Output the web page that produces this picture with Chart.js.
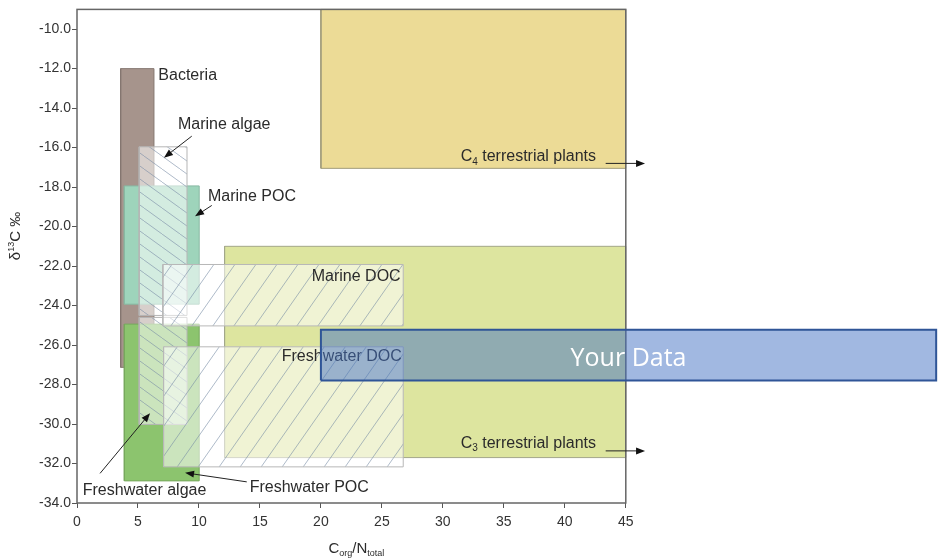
<!DOCTYPE html>
<html><head><meta charset="utf-8">
<script src="https://cdn.jsdelivr.net/npm/chart.js@4.4.0/dist/chart.umd.min.js"></script>
<style>html,body{margin:0;padding:0;background:#fff;} canvas{display:block;}</style>
</head><body>
<canvas id="c" width="938" height="558"></canvas>
<script>
// ---------------- data ----------------
const boxNames = ['C4 terrestrial plants','C3 terrestrial plants','Bacteria','Marine POC','Freshwater POC','Marine algae','Freshwater algae','Marine DOC','Freshwater DOC','Your Data'];
const boxXMin = [20,    12.1,  3.58,  3.88,   3.88,   5.1,    5.1,    7.04,   7.1,    20];
const boxXMax = [45,    45,    6.31,  10.02,  10.02,  9.02,   9.02,   26.75,  26.75,  70.45];
const boxYMin = [-17.05,-31.7, -27.13,-23.93, -32.88, -24.5,  -30.02, -25.03, -32.17, -27.8];
const boxYMax = [-9,    -21.0, -12.0, -17.94, -24.94, -15.96, -24.6,  -21.92, -26.09, -25.23];

const xTicks = [0,5,10,15,20,25,30,35,40,45];
const yTicks = [-34,-32,-30,-28,-26,-24,-22,-20,-18,-16,-14,-12,-10];

const labelText  = ['Bacteria','Marine algae','Marine POC','Marine DOC','Freshwater DOC','Freshwater algae','Freshwater POC','C_{4} terrestrial plants','C_{3} terrestrial plants'];
const labelX     = [6.67, 8.28, 10.74, 26.54, 26.63, 0.47, 14.16, 31.46, 31.46];
const labelY     = [-12.34, -14.83, -18.48, -22.51, -26.58, -33.38, -33.21, -16.46, -30.99];
const labelAlign = ['left','left','left','right','right','left','left','left','left'];

const arrowX0 = [9.41, 11.05, 1.89, 13.92, 43.35, 43.35];
const arrowY0 = [-15.42, -18.93, -32.50, -32.93, -16.8, -31.36];
const arrowX1 = [7.13, 9.68, 5.99, 8.86, 46.58, 46.58];
const arrowY1 = [-16.51, -19.48, -29.45, -32.47, -16.8, -31.36];

const yourDataText = 'Your Data';
const xTitle = 'C_{org}/N_{total}';
const yTitle = 'δ^{13}C ‰';

// ---------------- styles ----------------
const X_MAX = 70.6, Y_MIN = -34, Y_MAX = -9, FRAME_XMAX = 45;
const canvas = document.getElementById('c');
const ctx0 = canvas.getContext('2d');
function makeHatch(w, h, dir) {
  const c = document.createElement('canvas'); c.width = w; c.height = h;
  const g = c.getContext('2d');
  g.fillStyle = 'rgba(255,255,255,0.55)'; g.fillRect(0,0,w,h);
  g.strokeStyle = 'rgba(120,140,165,0.6)'; g.lineWidth = 1;
  g.beginPath();
  for (let k = -1; k <= 1; k++) {
    if (dir > 0) { g.moveTo(k*w, h); g.lineTo(k*w + w, 0); }
    else { g.moveTo(k*w, 0); g.lineTo(k*w + w, h); }
  }
  g.stroke();
  return ctx0.createPattern(c, 'repeat');
}
const hatchBack = makeHatch(18, 13, -1);
const hatchFwd = makeHatch(21, 30, 1);
const boxFill = ['#ecdb96','#dde59f','#a6948c','#9ed4bb','#8cc46e',hatchBack,hatchBack,hatchFwd,hatchFwd,'rgba(68,114,196,0.5)'];
const boxBorder = ['#a09c7a','#a3a78a','#857771','#88b9a2','#77a85e','#b5b5b5','#b5b5b5','#b8b8b8','#b8b8b8','#2f5597'];
const boxBorderW = [1,1,1,1,1,1,1,1,1,2];

const FONT = '"Liberation Sans", Arial, sans-serif';

function parseRich(s) {
  const parts = []; const re = /_\{([^}]*)\}|\^\{([^}]*)\}/g; let last = 0, m;
  while ((m = re.exec(s))) {
    if (m.index > last) parts.push({t: s.slice(last, m.index), k: 0});
    parts.push({t: m[1] !== undefined ? m[1] : m[2], k: m[1] !== undefined ? -1 : 1});
    last = re.lastIndex;
  }
  if (last < s.length) parts.push({t: s.slice(last), k: 0});
  return parts;
}
function drawRich(ctx, s, x, y, size, align, color, family) {
  family = family || FONT;
  const parts = parseRich(s);
  const small = Math.round(size * 0.6);
  let w = 0;
  parts.forEach(p => { ctx.font = (p.k ? small : size) + 'px ' + family; p.w = ctx.measureText(p.t).width; w += p.w; });
  let cx = align === 'right' ? x - w : align === 'center' ? x - w / 2 : x;
  ctx.fillStyle = color; ctx.textBaseline = 'middle'; ctx.textAlign = 'left';
  parts.forEach(p => {
    ctx.font = (p.k ? small : size) + 'px ' + family;
    const dy = p.k === -1 ? size * 0.32 : p.k === 1 ? -size * 0.3 : 0;
    ctx.fillText(p.t, cx, y + dy); cx += p.w;
  });
}
function drawArrow(ctx, x0, y0, x1, y1) {
  const a = Math.atan2(y1 - y0, x1 - x0), L = 9, W = 3.5;
  ctx.strokeStyle = '#222'; ctx.fillStyle = '#111'; ctx.lineWidth = 1;
  ctx.beginPath(); ctx.moveTo(x0, y0); ctx.lineTo(x1 - L * 0.8 * Math.cos(a), y1 - L * 0.8 * Math.sin(a)); ctx.stroke();
  ctx.beginPath(); ctx.moveTo(x1, y1);
  ctx.lineTo(x1 - L * Math.cos(a) + W * Math.sin(a), y1 - L * Math.sin(a) - W * Math.cos(a));
  ctx.lineTo(x1 - L * Math.cos(a) - W * Math.sin(a), y1 - L * Math.sin(a) + W * Math.cos(a));
  ctx.closePath(); ctx.fill();
}

const YD = boxNames.length - 1;
const N = boxNames.length;
const overlay = {
  id: 'overlay',
  afterDatasetDraw(chart, args) {
    if (args.index !== YD - 1) return;
    const ctx = chart.ctx, xs = chart.scales.x, ys = chart.scales.y;
    ctx.save();
    ctx.strokeStyle = '#666'; ctx.lineWidth = 1.5;
    const l = xs.getPixelForValue(0), r = xs.getPixelForValue(FRAME_XMAX), t = ys.getPixelForValue(Y_MAX), b = ys.getPixelForValue(Y_MIN);
    ctx.strokeRect(l, t, r - l, b - t);
    labelText.forEach((s, i) => drawRich(ctx, s, xs.getPixelForValue(labelX[i]), ys.getPixelForValue(labelY[i]), 16, labelAlign[i], '#2b2b2b'));
    arrowX0.forEach((v, i) => drawArrow(ctx, xs.getPixelForValue(v), ys.getPixelForValue(arrowY0[i]), xs.getPixelForValue(arrowX1[i]), ys.getPixelForValue(arrowY1[i])));
    drawRich(ctx, xTitle, (l + r) / 2 + 5, 549, 15, 'center', '#2b2b2b');
    ctx.translate(16, 236); ctx.rotate(-Math.PI / 2);
    drawRich(ctx, yTitle, 0, 0, 15, 'center', '#2b2b2b');
    ctx.restore();
  },
  afterDatasetsDraw(chart) {
    const ctx = chart.ctx, xs = chart.scales.x, ys = chart.scales.y;
    ctx.save();
    const cx = xs.getPixelForValue((boxXMin[YD] + boxXMax[YD]) / 2);
    const cy = ys.getPixelForValue((boxYMin[YD] + boxYMax[YD]) / 2);
    ctx.font = '25px "Open Sans", sans-serif'; ctx.fillStyle = '#ffffff';
    ctx.textAlign = 'center'; ctx.textBaseline = 'middle';
    ctx.fillText(yourDataText, cx, cy + 4);
    ctx.restore();
  }
};

const datasets = boxNames.map((name, i) => ({
  label: name,
  order: N - i,
  data: [
    {x: boxXMin[i], y: boxYMin[i]}, {x: boxXMax[i], y: boxYMin[i]},
    {x: boxXMax[i], y: boxYMax[i]}, {x: boxXMin[i], y: boxYMax[i]},
    {x: boxXMin[i], y: boxYMin[i]}
  ],
  showLine: true, fill: 'shape', tension: 0,
  backgroundColor: boxFill[i], borderColor: boxBorder[i], borderWidth: boxBorderW[i],
  borderJoinStyle: 'miter', pointRadius: 0, pointHoverRadius: 0, clip: false
}));

new Chart(canvas, {
  type: 'scatter',
  data: { datasets },
  plugins: [overlay],
  options: {
    responsive: false, animation: false, events: [],
    layout: { padding: { top: 7, right: 0, bottom: 0, left: 0 } },
    plugins: { legend: { display: false }, tooltip: { enabled: false } },
    scales: {
      x: {
        type: 'linear', min: 0, max: X_MAX,
        afterBuildTicks: s => { s.ticks = xTicks.map(v => ({value: v})); },
        afterFit: s => { s.height = 55; },
        grid: { drawOnChartArea: false, drawTicks: true, tickLength: 5, color: '#555', lineWidth: 1 },
        border: { display: false },
        ticks: { font: { family: FONT, size: 14 }, color: '#333', padding: 6, maxRotation: 0 }
      },
      y: {
        type: 'linear', min: Y_MIN, max: Y_MAX,
        afterBuildTicks: s => { s.ticks = yTicks.map(v => ({value: v})); },
        afterFit: s => { s.width = 77; },
        grid: { drawOnChartArea: false, drawTicks: true, tickLength: 5, color: '#555', lineWidth: 1 },
        border: { display: false },
        ticks: { font: { family: FONT, size: 14 }, color: '#333', padding: 1, callback: v => Number(v).toFixed(1) }
      }
    }
  }
});
</script>
</body></html>
